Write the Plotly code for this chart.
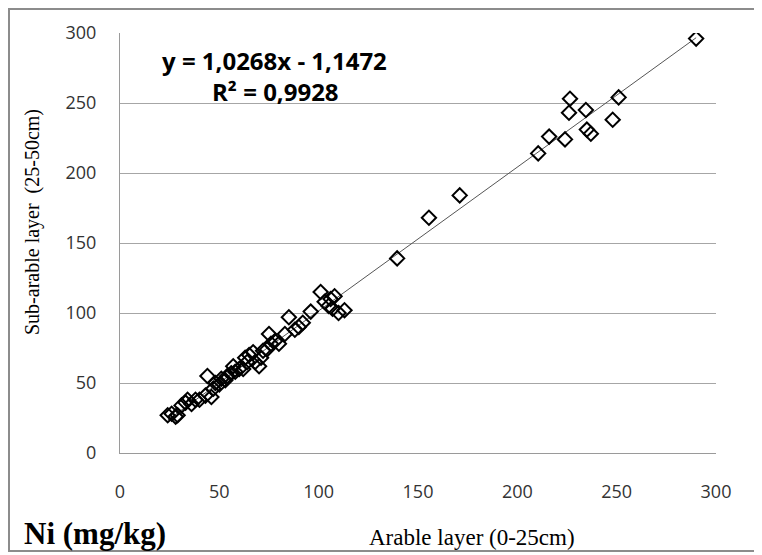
import plotly.graph_objects as go

# Data (Ni, mg/kg)
arable = [24, 26, 28, 29, 31, 33, 34, 36, 38, 40, 43, 44, 46, 47, 48, 50, 51, 53, 54, 56,
          57, 58, 60, 62, 63, 64, 65, 67, 68, 70, 71, 72, 74, 75, 76, 78, 80, 83, 85, 88,
          90, 92, 96, 101, 103, 105, 106, 107, 108, 110, 113, 139.5, 155.5, 171, 210.5,
          216, 224, 226, 226.5, 234.5, 235, 237, 248, 251, 290]
sub_arable = [27, 28, 26, 27, 34, 36, 38, 35, 38, 38, 41, 55, 40, 46, 50, 49, 53, 52, 55, 57,
              62, 58, 60, 60, 68, 65, 70, 72, 65, 62, 68, 73, 74, 85, 78, 80, 78, 85, 97, 88,
              90, 93, 101, 115, 108, 105, 110, 103, 112, 100, 102, 139, 168, 184, 214,
              226, 224, 243, 253, 245, 231, 228, 238, 254, 296]

slope = 1.0268
intercept = -1.1472
r2_text = "0,9928"
x_ticks = [0, 50, 100, 150, 200, 250, 300]
y_ticks = [0, 50, 100, 150, 200, 250, 300]

x_line = [min(arable), max(arable)]
y_line = [slope * v + intercept for v in x_line]

# helpers: convert reference-image pixel positions to paper coordinates
PL, PT, PW, PH = 120, 33, 596, 420
def px(xp):
    return (xp - PL) / PW
def py(yp):
    return (PT + PH - yp) / PH

fig = go.Figure()
fig.add_trace(go.Scatter(x=x_line, y=y_line, mode="lines",
                         line=dict(color="#555555", width=1), hoverinfo="skip"))
fig.add_trace(go.Scatter(x=arable, y=sub_arable, mode="markers",
                         marker=dict(symbol="diamond-open", size=11,
                                     color="black", line=dict(color="black", width=2))))

tick_font = dict(family="Open Sans, sans-serif", size=18, color="#333333")
eq_font = dict(family="Open Sans, sans-serif", size=24, color="black")
serif = "Liberation Serif, Times New Roman, serif"

fig.update_layout(
    width=754, height=547,
    margin=dict(l=112, r=46, t=25, b=102),
    paper_bgcolor="white", plot_bgcolor="white",
    showlegend=False,
    xaxis=dict(range=[0, 300], tickvals=x_ticks, showgrid=False, zeroline=False,
               showline=True, linecolor="#9a9a9a", linewidth=1,
               tickfont=tick_font, ticklabelstandoff=22, fixedrange=True),
    yaxis=dict(range=[0, 300], tickvals=y_ticks, showgrid=True, gridcolor="#a6a6a6",
               gridwidth=1, zeroline=False, showline=True, linecolor="#9a9a9a",
               linewidth=1, tickfont=tick_font, ticklabelstandoff=19, fixedrange=True),
    annotations=[
        dict(text="<b>y = 1,0268x - 1,1472</b>", xref="paper", yref="paper",
             x=px(274), y=py(60), showarrow=False, font=eq_font,
             xanchor="center", yanchor="middle"),
        dict(text="<b>R² = " + r2_text + "</b>", xref="paper", yref="paper",
             x=px(275), y=py(92), showarrow=False, font=eq_font,
             xanchor="center", yanchor="middle"),
        dict(text="Arable layer (0-25cm)", xref="paper", yref="paper",
             x=px(472), y=py(537), showarrow=False,
             font=dict(family=serif, size=23, color="black"),
             xanchor="center", yanchor="middle"),
        dict(text="Sub-arable layer  (25-50cm)", xref="paper", yref="paper",
             x=px(33), y=py(222), showarrow=False, textangle=-90,
             font=dict(family=serif, size=20, color="black"),
             xanchor="center", yanchor="middle"),
        dict(text="<b>Ni (mg/kg)</b>", xref="paper", yref="paper",
             x=px(22), y=py(533), showarrow=False,
             font=dict(family=serif, size=31, color="black"),
             xanchor="left", yanchor="middle"),
    ],
    shapes=[
        dict(type="rect", xref="paper", yref="paper",
             x0=px(9), x1=px(758), y0=py(551), y1=py(9),
             line=dict(color="#8c8c8c", width=2), fillcolor="rgba(0,0,0,0)", layer="below"),
    ],
)

fig.write_html("out.html")
